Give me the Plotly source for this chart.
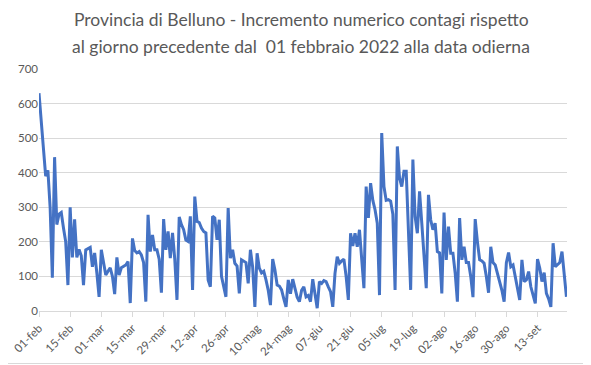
import plotly.graph_objects as go
import pandas as pd

start_date = "2022-02-01"
values = [
    630, 560, 470, 390, 407, 300, 96, 445, 250, 280,
    285, 240, 200, 75, 300, 155, 265, 155, 178, 160,
    75, 177, 180, 184, 128, 168, 110, 41, 177, 140,
    104, 115, 125, 100, 49, 155, 104, 125, 130, 133,
    143, 23, 210, 175, 168, 172, 162, 140, 27, 278,
    172, 220, 177, 177, 150, 53, 266, 177, 230, 153,
    226, 150, 32, 272, 250, 235, 205, 201, 274, 61,
    331, 259, 256, 240, 230, 226, 90, 70, 274, 269,
    206, 264, 100, 70, 41, 298, 153, 177, 138, 130,
    51, 148, 145, 140, 80, 177, 127, 12, 167, 124,
    110, 115, 90, 60, 17, 150, 119, 75, 72, 61,
    35, 12, 90, 50, 92, 66, 40, 27, 60, 70,
    41, 45, 27, 92, 51, 8, 85, 80, 88, 85,
    70, 56, 12, 109, 157, 138, 145, 150, 100, 32,
    225, 188, 225, 186, 235, 150, 66, 360, 269, 370,
    320, 293, 254, 46, 515, 360, 320, 322, 318, 280,
    61, 476, 385, 360, 404, 404, 250, 61, 438, 273,
    225, 346, 254, 170, 66, 336, 264, 235, 254, 172,
    168, 51, 285, 148, 244, 167, 167, 110, 27, 269,
    148, 186, 140, 140, 100, 40, 266, 200, 148, 145,
    138, 100, 53, 186, 140, 133, 110, 90, 60, 27,
    140, 169, 128, 133, 100, 70, 32, 148, 85, 90,
    114, 70, 45, 22, 150, 124, 85, 111, 51, 35,
    12, 196, 128, 133, 140, 172, 100, 41,
]
dates = pd.date_range(start_date, periods=len(values), freq="D")

tick_labels = ["01-feb", "15-feb", "01-mar", "15-mar", "29-mar", "12-apr", "26-apr",
               "10-mag", "24-mag", "07-giu", "21-giu", "05-lug", "19-lug", "02-ago",
               "16-ago", "30-ago", "13-set"]
tick_dates = pd.date_range(start_date, periods=len(tick_labels), freq="14D")

title_lines = ["Provincia di Belluno - Incremento numerico contagi rispetto",
               "al giorno precedente dal\u00a0 01 febbraio 2022 alla data odierna"]

# the page body has an 8px margin: the figure is sized/offset to compensate
PAGE_OFF = 8
W, H = 591 - PAGE_OFF, 365 - PAGE_OFF
L, R, T, B = 39 - PAGE_OFF, 24, 69 - PAGE_OFF, 54
pw = W - L - R
ph = H - T - B

fig = go.Figure()
fig.add_trace(go.Scatter(
    x=dates, y=values, mode="lines",
    line=dict(color="#4472C4", width=3),
    hoverinfo="x+y", showlegend=False,
))

grey = "#595959"
font_family = "Lato, Calibri, sans-serif"

annotations = []
for line, ypix in zip(title_lines, [20, 46]):
    annotations.append(dict(
        text=line, showarrow=False,
        xref="paper", yref="paper",
        x=(301 - PAGE_OFF - L) / pw, xanchor="center",
        y=(H - B - (ypix - PAGE_OFF)) / ph, yanchor="middle",
        font=dict(size=17.5, color=grey, family=font_family),
    ))

fig.update_layout(
    width=W, height=H,
    margin=dict(l=L, r=R, t=T, b=B, autoexpand=False),
    paper_bgcolor="white", plot_bgcolor="white",
    font=dict(family=font_family, color=grey),
    annotations=annotations,
    xaxis=dict(
        type="date", automargin=False,
        range=[dates[0], dates[-1] + pd.Timedelta(hours=6)],
        tickvals=tick_dates, ticktext=tick_labels,
        tickangle=-45, tickfont=dict(size=11.5, color=grey),
        showgrid=False, zeroline=False,
        showline=True, linecolor="#d9d9d9", linewidth=1,
        ticks="outside", ticklen=5, tickcolor="#d9d9d9",
    ),
    yaxis=dict(
        range=[0, 700], dtick=100, automargin=False,
        tickfont=dict(size=11.5, color=grey),
        showgrid=True, gridcolor="#d9d9d9", gridwidth=1,
        zeroline=False, showline=False, ticks="",
    ),
    shapes=[dict(
        type="rect", xref="paper", yref="paper",
        x0=(-20 - L) / pw, x1=(W - 1.5 - L) / pw,
        y0=-(B - 1.5) / ph, y1=1 + (T + 20) / ph,
        line=dict(color="#d9d9d9", width=1), fillcolor="rgba(0,0,0,0)",
        layer="below",
    )],
)

fig.write_html("out.html")
